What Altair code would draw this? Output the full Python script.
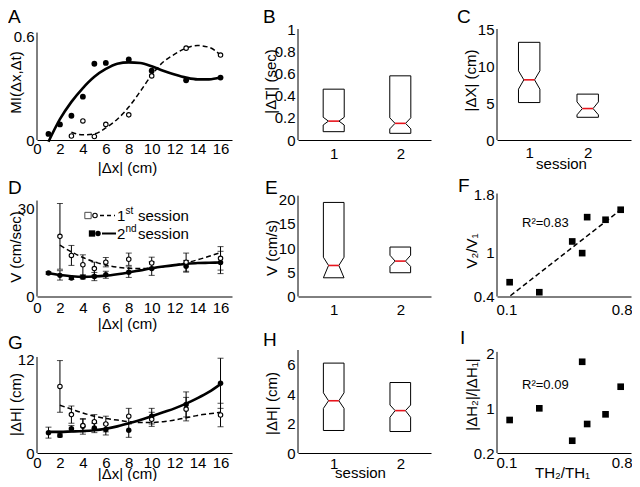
import altair as alt
import pandas as pd

FONT = "Liberation Sans"
FS = 15

# ================= data =================
# distances (cm)
dx2 = [1, 2, 3, 4, 5, 6, 8, 10, 13, 16]          # 2nd session
dx1 = [2, 3, 4, 5, 6, 8, 10, 13, 16]             # 1st session (D, G)
dx1_a = [3, 4, 5, 6, 8, 10, 13, 16]              # 1st session (A)

# A: mutual information
mi_s2 = [0.035, 0.09, 0.14, 0.25, 0.44, 0.445, 0.465, 0.40, 0.345, 0.36]
mi_s1 = [0.023, 0.11, 0.02, 0.09, 0.145, 0.37, 0.53, 0.49]
fitx_a2 = [1, 2, 3, 4, 5, 6, 7, 8, 9, 10, 11, 12, 13, 14, 15, 16]
mi_fit2 = [-0.01, 0.12, 0.22, 0.30, 0.365, 0.41, 0.44, 0.448, 0.444, 0.425, 0.40, 0.378, 0.36, 0.35, 0.35, 0.362]
fitx_a1 = [3, 4, 5, 6, 7, 8, 9, 10, 11, 12, 13, 14, 15, 16]
mi_fit1 = [0.045, 0.03, 0.035, 0.07, 0.12, 0.19, 0.28, 0.375, 0.45, 0.495, 0.53, 0.545, 0.535, 0.49]

# D: velocity
v_s1 = [20.5, 14.0, 10.8, 9.5, 11.7, 12.7, 11.4, 11.7, 13.0]
v_err1 = [11.2, 3.4, 3.4, 2.2, 1.6, 2.1, 2.0, 3.1, 4.0]
v_s2 = [8.0, 7.2, 6.3, 6.6, 6.8, 7.4, 8.3, 9.5, 10.3, 11.6]
v_err2 = [0.4, 1.6, 0.5, 0.6, 1.4, 1.2, 1.8, 2.3, 2.0, 3.8]
fitx_1 = [2, 3, 4, 5, 6, 7, 8, 9, 10, 11, 12, 13, 14, 15, 16]
fitx_2 = [1, 2, 3, 4, 5, 6, 7, 8, 9, 10, 11, 12, 13, 14, 15, 16]
v_fit1 = [17.5, 15.2, 13.3, 11.8, 10.7, 10.0, 9.6, 9.5, 9.7, 10.1, 10.7, 11.5, 12.5, 13.7, 15.0]
v_fit2 = [8.0, 7.3, 6.9, 6.7, 6.8, 7.1, 7.6, 8.2, 8.9, 9.6, 10.2, 10.7, 11.1, 11.4, 11.5, 11.6]

# G: |dH|
h_s1 = [8.5, 4.9, 3.5, 4.0, 3.7, 4.7, 4.3, 5.6, 4.85]
h_err1 = [3.3, 1.1, 0.8, 0.9, 1.0, 1.0, 0.9, 1.5, 1.5]
h_s2 = [2.6, 2.25, 3.1, 3.4, 3.2, 3.0, 2.9, 4.7, 6.2, 8.9]
h_err2 = [0.7, 0.2, 0.4, 1.0, 0.6, 0.7, 0.9, 1.0, 1.6, 3.2]
h_fit1 = [6.1, 5.6, 5.1, 4.7, 4.4, 4.2, 4.0, 3.9, 3.9, 4.0, 4.2, 4.5, 4.8, 5.0, 5.2]
h_fit2 = [2.7, 2.7, 2.75, 2.8, 2.9, 3.1, 3.4, 3.8, 4.2, 4.7, 5.2, 5.7, 6.3, 7.0, 7.8, 8.8]

# Box plots (session 1, session 2)
sessions = [1, 2]
b_q1 = [0.075, 0.06]; b_q3 = [0.458, 0.578]; b_med = [0.17, 0.15]; b_nlo = [0.135, 0.10]; b_nhi = [0.205, 0.20]
c_q1 = [5.06, 3.07]; c_q3 = [13.2, 6.2]; c_med = [8.13, 4.25]; c_nlo = [6.87, 3.4]; c_nhi = [9.35, 5.15]
e_q1 = [3.86, 4.9]; e_q3 = [19.4, 10.2]; e_med = [6.4, 7.3]; e_nlo = [3.86, 6.2]; e_nhi = [8.1, 8.5]
hh_q1 = [1.53, 1.46]; hh_q3 = [6.11, 4.79]; hh_med = [3.55, 2.88]; hh_nlo = [3.03, 2.43]; hh_nhi = [4.09, 3.26]

# F / I scatter
th_ratio = [0.166, 0.321, 0.493, 0.545, 0.571, 0.667, 0.746]
v_ratio = [0.597, 0.459, 1.159, 0.998, 1.494, 1.458, 1.596]
dh_ratio = [0.794, 1.004, 0.421, 1.842, 0.722, 0.896, 1.393]
f_fit_x = [0.17, 0.763]
f_fit_y = [0.41, 1.63]

# ================= helpers =================
def x_axis(values, title=None, tx=0, ty=0, pad=3, flush=False):
    kw = dict(values=values, format="~f", ticks=False, grid=False, domain=True,
              domainColor="black", domainWidth=1, labelFont=FONT, labelFontSize=FS,
              labelColor="black", labelPadding=pad, labelFlush=flush, labelOverlap=False)
    if flush:
        kw["labelFlushOffset"] = 1
    if title is None:
        kw["title"] = None
    else:
        kw.update(title=title, titleX=tx, titleY=ty, titleFont=FONT, titleFontSize=FS,
                  titleFontWeight="normal", titleColor="black", titleBaseline="middle",
                  titleAlign="center")
    return alt.Axis(**kw)


def y_axis(values, title, tx, ty, pad=3):
    return alt.Axis(values=values, format="~f", ticks=False, grid=False, domain=False,
                    labelFont=FONT, labelFontSize=FS, labelColor="black", labelPadding=pad,
                    labelOverlap=False, title=title, titleX=tx, titleY=ty, titleAngle=270,
                    titleFont=FONT, titleFontSize=FS, titleFontWeight="normal",
                    titleColor="black", titleBaseline="middle", titleAlign="center")


def sc(dom):
    return alt.Scale(domain=dom, nice=False, zero=False)


def XY(sx, sy, ax, ay, xf="x", yf="y"):
    return dict(x=alt.X(f"{xf}:Q", scale=sx, axis=ax), y=alt.Y(f"{yf}:Q", scale=sy, axis=ay))


def yrule(sy, ay, y0, y1):
    df = pd.DataFrame({"y0": [y0], "y1": [y1]})
    return alt.Chart(df).mark_rule(color="black", strokeWidth=1).encode(
        x=alt.value(0), y=alt.Y("y0:Q", scale=sy, axis=ay), y2="y1:Q")


def letter(t, dx, dy):
    return alt.Chart(pd.DataFrame({"t": [t]})).mark_text(
        align="left", baseline="top", fontSize=19, font=FONT, color="black").encode(
        text="t:N", x=alt.value(dx), y=alt.value(dy))


def label(t, dx, dy, size=FS):
    return alt.Chart(pd.DataFrame({"t": [t]})).mark_text(
        align="left", baseline="middle", fontSize=size, font=FONT, color="black").encode(
        text="t:N", x=alt.value(dx), y=alt.value(dy))


def curve(xs, ys, sx, sy, ax, ay, dashed=False):
    df = pd.DataFrame({"x": xs, "y": ys})
    if dashed:
        m = alt.Chart(df).mark_line(color="black", strokeWidth=1.5, strokeDash=[5, 3], interpolate="monotone")
    else:
        m = alt.Chart(df).mark_line(color="black", strokeWidth=2.6, interpolate="monotone")
    return m.encode(**XY(sx, sy, ax, ay))


def dots(xs, ys, sx, sy, ax, ay, filled=True, size=30):
    df = pd.DataFrame({"x": xs, "y": ys})
    if filled:
        m = alt.Chart(df).mark_circle(color="black", size=size, opacity=1)
    else:
        m = alt.Chart(df).mark_circle(fill="white", stroke="black", strokeWidth=1.1, size=size, opacity=1)
    return m.encode(**XY(sx, sy, ax, ay))


def errbars(xs, ys, es, sx, sy, ax, ay):
    df = pd.DataFrame({"x": xs, "y": ys, "e": es})
    base = alt.Chart(df).transform_calculate(lo="datum.y - datum.e", hi="datum.y + datum.e")
    bar = base.mark_rule(color="black", strokeWidth=1).encode(
        x=alt.X("x:Q", scale=sx, axis=ax), y=alt.Y("lo:Q", scale=sy, axis=ay), y2="hi:Q")
    cap_lo = base.mark_tick(color="black", orient="horizontal", size=6, thickness=1).encode(
        x=alt.X("x:Q", scale=sx, axis=ax), y=alt.Y("lo:Q", scale=sy, axis=ay))
    cap_hi = base.mark_tick(color="black", orient="horizontal", size=6, thickness=1).encode(
        x=alt.X("x:Q", scale=sx, axis=ax), y=alt.Y("hi:Q", scale=sy, axis=ay))
    return [bar, cap_lo, cap_hi]


def boxes(q1, q3, med, nlo, nhi, hw, sx, sy, ax, ay):
    rows = []
    meds = []
    for i, c in enumerate(sessions):
        wi = hw * 0.5
        pts = [(c - hw, q1[i]), (c + hw, q1[i]), (c + hw, nlo[i]), (c + wi, med[i]),
               (c + hw, nhi[i]), (c + hw, q3[i]), (c - hw, q3[i]), (c - hw, nhi[i]),
               (c - wi, med[i]), (c - hw, nlo[i]), (c - hw, q1[i])]
        for k, (px, py) in enumerate(pts):
            rows.append({"s": c, "o": k, "x": px, "y": py})
        meds.append({"s": c, "x": c - wi, "x2": c + wi, "y": med[i]})
    outline = alt.Chart(pd.DataFrame(rows)).mark_line(color="black", strokeWidth=1).encode(
        order="o:Q", detail="s:N", **XY(sx, sy, ax, ay))
    medline = alt.Chart(pd.DataFrame(meds)).mark_rule(color="#e8141c", strokeWidth=1.6).encode(
        x2="x2:Q", **XY(sx, sy, ax, ay))
    return [outline, medline]


def squares(xs, ys, sx, sy, ax, ay):
    df = pd.DataFrame({"x": xs, "y": ys})
    return alt.Chart(df).mark_square(color="black", size=44, opacity=1).encode(**XY(sx, sy, ax, ay))


W1, W2, W3 = 195, 133, 134
H1, H2, H3 = 111, 103, 103
dx_ticks = [0, 2, 4, 6, 8, 10, 12, 14, 16]
sx_dx = sc([0, 17])
sx_box = sc([0.464, 2.461])
sx_c = sc([0.45, 2.74])
sx_th = sc([0.1, 0.8])

# ---------- A ----------
syA = sc([0, 0.6405])
axA = x_axis(dx_ticks, "|Δx| (cm)", 90, 27, pad=1)
ayA = y_axis([0, 0.6], "MI(Δx,Δt)", -21.5, 53)
A = alt.layer(
    yrule(syA, ayA, 0, 0.62),
    curve(fitx_a2, mi_fit2, sx_dx, syA, axA, ayA),
    curve(fitx_a1, mi_fit1, sx_dx, syA, axA, ayA, dashed=True),
    dots(dx2, mi_s2, sx_dx, syA, axA, ayA, True, 34),
    dots(dx1_a, mi_s1, sx_dx, syA, axA, ayA, False, 20),
    letter("A", -29, -21),
).properties(width=W1, height=H1)

# ---------- B ----------
syB = sc([0, 1])
axB = x_axis([1, 2], None, pad=6)
ayB = y_axis([0, 0.2, 0.4, 0.6, 0.8, 1], "|ΔT| (sec)", -28, 52)
B = alt.layer(
    yrule(syB, ayB, 0, 1),
    *boxes(b_q1, b_q3, b_med, b_nlo, b_nhi, 0.158, sx_box, syB, axB, ayB),
    letter("B", -35, -21),
).properties(width=W2, height=H1)

# ---------- C ----------
syC = sc([0, 15])
axC = x_axis([1, 2], "session", 64, 23, pad=5)
ayC = y_axis([0, 5, 10, 15], "|ΔX| (cm)", -27, 51)
C = alt.layer(
    yrule(syC, ayC, 0, 15),
    *boxes(c_q1, c_q3, c_med, c_nlo, c_nhi, 0.183, sx_c, syC, axC, ayC),
    letter("C", -40, -21),
).properties(width=W3, height=H1)

# ---------- D ----------
syD = sc([0, 35.1])
axD = x_axis(dx_ticks, "|Δx| (cm)", 90, 27, pad=4)
ayD = y_axis([0, 30], "V (cm/sec)", -21.5, 53)
D = alt.layer(
    yrule(syD, ayD, 0, 32.7),
    *errbars(dx1, v_s1, v_err1, sx_dx, syD, axD, ayD),
    *errbars(dx2, v_s2, v_err2, sx_dx, syD, axD, ayD),
    curve(fitx_1, v_fit1, sx_dx, syD, axD, ayD, dashed=True),
    curve(fitx_2, v_fit2, sx_dx, syD, axD, ayD),
    dots(dx2, v_s2, sx_dx, syD, axD, ayD, True, 30),
    dots(dx1, v_s1, sx_dx, syD, axD, ayD, False, 20),
    # legend
    alt.Chart(pd.DataFrame({"a": [0]})).mark_square(filled=False, stroke="black", strokeWidth=1, size=40).encode(
        x=alt.value(51), y=alt.value(22)),
    alt.Chart(pd.DataFrame({"a": [0]})).mark_circle(fill="white", stroke="black", strokeWidth=1.1, size=20, opacity=1).encode(
        x=alt.value(58), y=alt.value(22)),
    alt.Chart(pd.DataFrame({"a": [0]})).mark_rule(color="black", strokeWidth=1.5, strokeDash=[4, 3]).encode(
        x=alt.value(63), x2=alt.value(78), y=alt.value(22)),
    label("1", 80, 22), label("st", 88.5, 17, 10), label("session", 101, 22),
    alt.Chart(pd.DataFrame({"a": [0]})).mark_square(color="black", size=40, opacity=1).encode(
        x=alt.value(55), y=alt.value(40)),
    alt.Chart(pd.DataFrame({"a": [0]})).mark_circle(color="black", size=30, opacity=1).encode(
        x=alt.value(61), y=alt.value(40)),
    alt.Chart(pd.DataFrame({"a": [0]})).mark_rule(color="black", strokeWidth=2).encode(
        x=alt.value(65), x2=alt.value(79), y=alt.value(40)),
    label("2", 80, 40), label("nd", 88.5, 35, 10), label("session", 101, 40),
    letter("D", -29, -15),
).properties(width=W1, height=H2)

# ---------- E ----------
syE = sc([0, 21.24])
axE = x_axis([1, 2], None, pad=6)
ayE = y_axis([0, 5, 10, 15, 20], "V (cm/s)", -27, 54)
E = alt.layer(
    yrule(syE, ayE, 0, 20.8),
    *boxes(e_q1, e_q3, e_med, e_nlo, e_nhi, 0.155, sx_box, syE, axE, ayE),
    letter("E", -33, -15),
).properties(width=W2, height=H2)

# ---------- F ----------
syF = sc([0.4, 1.82])
axF = x_axis([0.1, 0.8], None, pad=6, flush=True)
ayF = y_axis([0.4, 1, 1.8], "V₂/V₁", -26, 57)
F = alt.layer(
    yrule(syF, ayF, 0.4, 1.82),
    curve(f_fit_x, f_fit_y, sx_th, syF, axF, ayF, dashed=True),
    squares(th_ratio, v_ratio, sx_th, syF, axF, ayF),
    label("R²=0.83", 25, 29, 13),
    letter("F", -39, -17),
).properties(width=W3, height=H2)

# ---------- G ----------
syG = sc([0, 13.15])
axG = x_axis(dx_ticks, "|Δx| (cm)", 90, 20, pad=2)
ayG = y_axis([0, 12], "|ΔH| (cm)", -21.5, 54)
G = alt.layer(
    yrule(syG, ayG, 0, 12.26),
    *errbars(dx1, h_s1, h_err1, sx_dx, syG, axG, ayG),
    *errbars(dx2, h_s2, h_err2, sx_dx, syG, axG, ayG),
    curve(fitx_1, h_fit1, sx_dx, syG, axG, ayG, dashed=True),
    curve(fitx_2, h_fit2, sx_dx, syG, axG, ayG),
    dots(dx2, h_s2, sx_dx, syG, axG, ayG, True, 30),
    dots(dx1, h_s1, sx_dx, syG, axG, ayG, False, 20),
    letter("G", -29, -16),
).properties(width=W1, height=H3)

# ---------- H ----------
syH = sc([0, 7])
axH = x_axis([1, 2], "session", 62, 19, pad=3)
ayH = y_axis([0, 2, 4, 6], "|ΔH| (cm)", -27, 53)
Hc = alt.layer(
    yrule(syH, ayH, 0, 7),
    *boxes(hh_q1, hh_q3, hh_med, hh_nlo, hh_nhi, 0.155, sx_box, syH, axH, ayH),
    letter("H", -35, -19),
).properties(width=W2, height=H3)

# ---------- I ----------
syI = sc([0.2, 2.054])
axI = x_axis([0.1, 0.8], "TH₂/TH₁", 65, 19, pad=2, flush=True)
ayI = y_axis([0.2, 1, 2], "|ΔH₂|/|ΔH₁|", -26, 44)
I = alt.layer(
    yrule(syI, ayI, 0.2, 2.02),
    squares(th_ratio, dh_ratio, sx_th, syI, axI, ayI),
    label("R²=0.09", 25, 35, 13),
    letter("I", -37, -21),
).properties(width=W3, height=H3)

chart = alt.concat(
    A, B, C, D, E, F, G, Hc, I,
    columns=3, spacing={"row": 53.5, "column": 66}, bounds="flush", align="each",
).properties(
    padding={"left": 0, "top": 0, "right": 0, "bottom": 0}, background="white"
).configure_view(stroke=None).configure_axis(labelFont=FONT, titleFont=FONT)

chart.save("out.html", embed_options={"renderer": "svg", "actions": False})
